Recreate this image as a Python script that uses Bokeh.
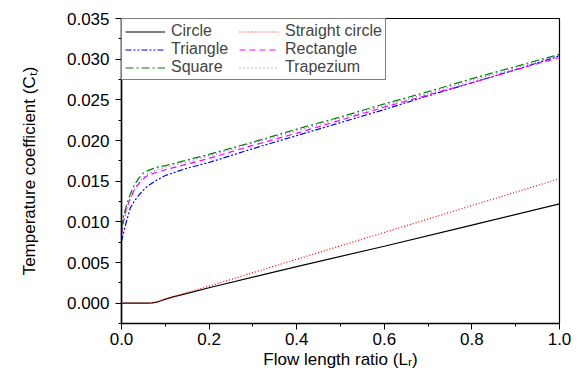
from bokeh.plotting import figure
from bokeh.models import (Range1d, Legend, LegendItem, NumeralTickFormatter,
                          FixedTicker)
from bokeh.embed import file_html
from bokeh.resources import INLINE

# ---- data ----
x_fine = [0, 0.005, 0.01, 0.02, 0.03, 0.04, 0.05, 0.06, 0.08, 0.1, 0.15,
          0.2, 0.3, 0.4, 0.5, 0.6, 0.7, 0.8, 0.9, 1.0]
square = [0.0092, 0.0108, 0.0118, 0.0134, 0.0146, 0.0154, 0.0160, 0.0163,
          0.0167, 0.0169, 0.0176, 0.0183, 0.0198, 0.0214, 0.0229, 0.0245,
          0.0260, 0.0276, 0.0291, 0.0306]
rectangle = [0.0085, 0.0102, 0.0114, 0.0129, 0.0140, 0.0147, 0.0153, 0.0157,
             0.0161, 0.0164, 0.0171, 0.0178, 0.0194, 0.0209, 0.0225, 0.0241,
             0.0256, 0.0271, 0.0287, 0.0302]
triangle = [0.0076, 0.0087, 0.0098, 0.0117, 0.0126, 0.0133, 0.0139, 0.0144,
            0.0151, 0.0157, 0.0166, 0.0173, 0.0190, 0.0206, 0.0222, 0.0238,
            0.0255, 0.0271, 0.0287, 0.0304]
trapezium = [0.0083, 0.0099, 0.0111, 0.0128, 0.0140, 0.0149, 0.0155, 0.0159,
             0.0164, 0.0167, 0.0174, 0.0181, 0.0197, 0.0212, 0.0227, 0.0243,
             0.0258, 0.0274, 0.0289, 0.0305]

x_circ = [0, 0.06, 0.07, 0.08, 0.09, 0.1, 0.12, 0.15, 0.2, 0.4, 0.6, 0.8, 1.0]
circle = [0, 0, 0.00003, 0.00012, 0.0003, 0.0005, 0.0008, 0.0012, 0.0019,
          0.0045, 0.0070, 0.0096, 0.0122]
straight_circle = [0, 0, 0.00003, 0.00012, 0.0003, 0.0005, 0.0008, 0.0013,
                   0.0021, 0.0054, 0.0087, 0.0120, 0.0153]

x_ticks = [0.0, 0.2, 0.4, 0.6, 0.8, 1.0]
x_minor = [0.1, 0.3, 0.5, 0.7, 0.9]
y_ticks = [0.000, 0.005, 0.010, 0.015, 0.020, 0.025, 0.030, 0.035]
y_minor = [-0.0025, 0.0025, 0.0075, 0.0125, 0.0175, 0.0225, 0.0275, 0.0325]

FONT = "Liberation Sans"

p = figure(width=582, height=375, output_backend="svg", toolbar_location=None,
           x_range=Range1d(0, 1.0), y_range=Range1d(-0.0025, 0.035),
           min_border_left=121, min_border_right=23, min_border_top=18,
           min_border_bottom=52)
p.grid.visible = False
p.outline_line_color = "black"
p.outline_line_width = 1.2
p.background_fill_color = "white"
p.border_fill_color = "white"

r_circle = p.line(x_circ, circle, line_color="black", line_width=1.2)
r_strc = p.line(x_circ, straight_circle, line_color="red", line_width=1.2,
                line_dash="1 2")
r_tri = p.line(x_fine, triangle, line_color="blue", line_width=1.2,
               line_dash="6 2 2 2 2 2")
r_rect = p.line(x_fine, rectangle, line_color="magenta", line_width=1.2,
                line_dash="6 4")
r_sq = p.line(x_fine, square, line_color="green", line_width=1.2,
              line_dash="8 3 2 3")
r_trap = p.line(x_fine, trapezium, line_color="#6b6bd6", line_width=1.2,
                line_dash="1 3")

# legend fills column by column: first column, then second column
legend = Legend(items=[
    LegendItem(label="Circle", renderers=[r_circle]),
    LegendItem(label="Triangle", renderers=[r_tri]),
    LegendItem(label="Square", renderers=[r_sq]),
    LegendItem(label="Straight circle", renderers=[r_strc]),
    LegendItem(label="Rectangle", renderers=[r_rect]),
    LegendItem(label="Trapezium", renderers=[r_trap]),
], location="top_left", ncols=2)
legend.margin = 0
legend.padding = 3
legend.spacing = 0
legend.label_height = 17
legend.glyph_height = 17
legend.glyph_width = 40
legend.label_width = 68
legend.label_standoff = 6
legend.label_text_font = FONT
legend.label_text_font_size = "16px"
legend.border_line_color = "black"
legend.border_line_width = 1
legend.background_fill_alpha = 1
p.add_layout(legend)

for ax in (p.xaxis[0], p.yaxis[0]):
    ax.axis_line_color = "black"
    ax.axis_line_width = 1.5
    ax.major_tick_line_color = "black"
    ax.minor_tick_line_color = "black"
    ax.major_tick_in = 0
    ax.major_tick_out = 6
    ax.minor_tick_in = 0
    ax.minor_tick_out = 3
    ax.major_label_text_font = FONT
    ax.major_label_text_font_size = "17px"
    ax.major_label_text_color = "black"
    ax.axis_label_text_font = FONT
    ax.axis_label_text_font_style = "normal"
    ax.axis_label_text_color = "black"

p.xaxis[0].ticker = FixedTicker(ticks=x_ticks, minor_ticks=x_minor)
p.xaxis[0].formatter = NumeralTickFormatter(format="0.0")
p.xaxis[0].major_label_standoff = 3
p.xaxis[0].axis_label = "Flow length ratio (Lᵣ)"
p.xaxis[0].axis_label_text_font_size = "17px"
p.xaxis[0].axis_label_standoff = 2

p.yaxis[0].ticker = FixedTicker(ticks=y_ticks, minor_ticks=y_minor)
p.yaxis[0].formatter = NumeralTickFormatter(format="0.000")
p.yaxis[0].major_label_standoff = 6
p.yaxis[0].axis_label = "Temperature coefficient (Cₜ)"
p.yaxis[0].axis_label_text_font_size = "17px"
p.yaxis[0].axis_label_standoff = 25

open("out.html", "w").write(file_html(p, INLINE))
